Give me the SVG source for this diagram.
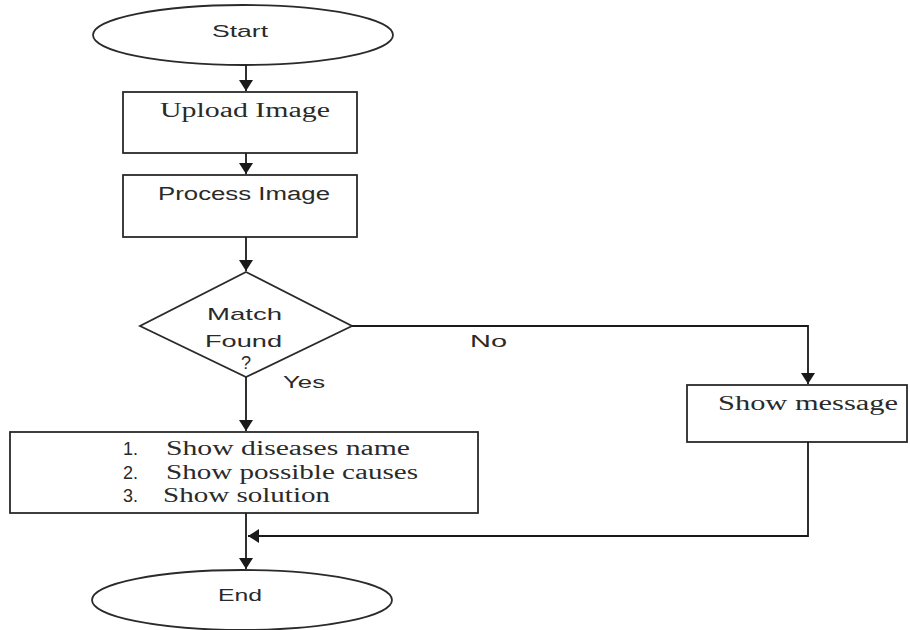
<svg xmlns="http://www.w3.org/2000/svg" width="910" height="630" viewBox="0 0 910 630">
<defs>
<marker id="arr" markerUnits="userSpaceOnUse" markerWidth="12" markerHeight="14" refX="11" refY="7" orient="auto">
<path d="M0,0 L11,7 L0,14 z" fill="#1a1a1a"/>
</marker>
<style>
.shape{fill:#fff;stroke:#2a2a2a;stroke-width:1.8}
.conn{fill:none;stroke:#1a1a1a;stroke-width:1.8}
.sans{font-family:"Liberation Sans","Open Sans",sans-serif;fill:#2a2a2a}
.serif{font-family:"Liberation Serif","DejaVu Serif",serif;fill:#2a2a2a}
</style>
</defs>
<rect width="910" height="630" fill="#fff"/>
<g id="start">
<ellipse class="shape" cx="243" cy="35" rx="150" ry="30"/>
<text class="sans" x="212" y="37" font-size="17" textLength="56" lengthAdjust="spacingAndGlyphs">Start</text>
</g>
<g id="upload">
<rect class="shape" x="123" y="92" width="234" height="61"/>
<text class="serif" x="160" y="117" font-size="20" textLength="170" lengthAdjust="spacingAndGlyphs">Upload Image</text>
</g>
<g id="process">
<rect class="shape" x="123" y="175" width="234" height="62"/>
<text class="sans" x="158" y="200" font-size="18" textLength="172" lengthAdjust="spacingAndGlyphs">Process Image</text>
</g>
<g id="decision">
<polygon class="shape" points="246,272 352,326 246,377 140,326"/>
<text class="sans" x="207" y="320" font-size="17" textLength="75" lengthAdjust="spacingAndGlyphs">Match</text>
<text class="sans" x="205" y="347" font-size="17" textLength="77" lengthAdjust="spacingAndGlyphs">Found</text>
<text class="sans" x="241" y="369" font-size="18">?</text>
</g>
<g id="message">
<rect class="shape" x="687" y="385" width="220" height="57"/>
<text class="serif" x="718" y="410" font-size="20" textLength="180" lengthAdjust="spacingAndGlyphs">Show message</text>
</g>
<g id="results">
<rect class="shape" x="10" y="432" width="468" height="81"/>
<text class="sans" x="123" y="455" font-size="18">1.</text>
<text class="serif" x="166" y="455" font-size="20" textLength="244" lengthAdjust="spacingAndGlyphs">Show diseases name</text>
<text class="sans" x="123" y="479" font-size="18">2.</text>
<text class="serif" x="166" y="479" font-size="20" textLength="252" lengthAdjust="spacingAndGlyphs">Show possible causes</text>
<text class="sans" x="123" y="502" font-size="18">3.</text>
<text class="serif" x="163" y="502" font-size="20" textLength="167" lengthAdjust="spacingAndGlyphs">Show solution</text>
</g>
<g id="end">
<ellipse class="shape" cx="242" cy="600" rx="150" ry="30"/>
<text class="sans" x="218" y="601" font-size="17" textLength="44" lengthAdjust="spacingAndGlyphs">End</text>
</g>
<g id="connectors">
<path class="conn" d="M246,65 V91" marker-end="url(#arr)"/>
<path class="conn" d="M246,153 V174" marker-end="url(#arr)"/>
<path class="conn" d="M246,237 V271" marker-end="url(#arr)"/>
<path class="conn" d="M352,326 H808 V384" marker-end="url(#arr)"/>
<path class="conn" d="M246,377 V431" marker-end="url(#arr)"/>
<path class="conn" d="M246,513 V569" marker-end="url(#arr)"/>
<path class="conn" d="M808,442 V536 H248" marker-end="url(#arr)"/>
<text class="sans" x="470" y="347" font-size="17" textLength="37" lengthAdjust="spacingAndGlyphs">No</text>
<text class="sans" x="283" y="388" font-size="17" textLength="42" lengthAdjust="spacingAndGlyphs">Yes</text>
</g>
</svg>
